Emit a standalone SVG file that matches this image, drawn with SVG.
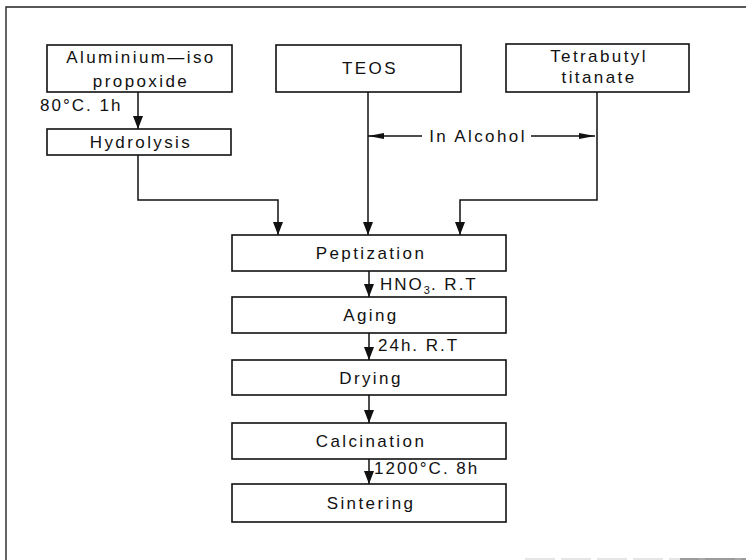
<svg xmlns="http://www.w3.org/2000/svg" width="746" height="560" viewBox="0 0 746 560">
<defs>
<style>
.box{fill:#fff;stroke:#111;stroke-width:1.6}
.t{font-family:"Liberation Sans",Arial,sans-serif;font-size:17px;letter-spacing:2.4px;fill:#111;text-anchor:middle}
.l{font-family:"Liberation Sans",Arial,sans-serif;font-size:17px;letter-spacing:2px;fill:#111}
.c{fill:none;stroke:#111;stroke-width:1.5}
.frame{fill:none;stroke:#222;stroke-width:1.4}
</style>
<marker id="av" viewBox="0 0 13 10" refX="13" refY="5" markerWidth="13" markerHeight="10" markerUnits="userSpaceOnUse" orient="auto">
<path d="M0,0 L13,5 L0,10 Z" fill="#111"/>
</marker>
<marker id="ahz" viewBox="0 0 16 8" refX="16" refY="4" markerWidth="16" markerHeight="8" markerUnits="userSpaceOnUse" orient="auto">
<path d="M0,1 L16,4 L0,7 Z" fill="#111"/>
</marker>
</defs>
<rect width="746" height="560" fill="#fff"/>
<path class="frame" d="M6,560 L6,7 L746,7"/>
<path d="M525,559 H746" stroke="#ccc" stroke-width="1.2" stroke-dasharray="30,6"/>
<path d="M680,559 H746" stroke="#555" stroke-width="1.2"/>

<g id="connectors">
<path class="c" d="M138,92 V129" marker-end="url(#av)"/>
<path class="c" d="M138,155 V200 H278 V235" marker-end="url(#av)"/>
<path class="c" d="M368,92 V235" marker-end="url(#av)"/>
<path class="c" d="M597,92 V200 H460 V235" marker-end="url(#av)"/>
<path class="c" d="M422,136 H368" marker-end="url(#ahz)"/>
<path class="c" d="M531,136 H595" marker-end="url(#ahz)"/>
<path class="c" d="M369,271 V297" marker-end="url(#av)"/>
<path class="c" d="M369,333 V360" marker-end="url(#av)"/>
<path class="c" d="M369,395 V423" marker-end="url(#av)"/>
<path class="c" d="M369,459 V484" marker-end="url(#av)"/>
<text class="l" x="40" y="111">80°C. 1h</text>
<text class="t" x="478" y="142">In Alcohol</text>
<text class="l" x="380" y="290">HNO<tspan font-size="11" dy="4" letter-spacing="1">3</tspan><tspan dy="-4">. R.T</tspan></text>
<text class="l" x="378" y="351">24h. R.T</text>
<text class="l" x="374" y="474">1200°C. 8h</text>
</g>

<g id="aluminium">
<rect class="box" x="47" y="45" width="185" height="47"/>
<text class="t" x="141" y="63">Aluminium—iso</text>
<text class="t" x="141" y="87">propoxide</text>
</g>
<g id="teos">
<rect class="box" x="276" y="45" width="185" height="47"/>
<text class="t" x="370" y="74">TEOS</text>
</g>
<g id="tetrabutyl">
<rect class="box" x="506" y="44" width="183" height="48"/>
<text class="t" x="599" y="62">Tetrabutyl</text>
<text class="t" x="599" y="83">titanate</text>
</g>
<g id="hydrolysis">
<rect class="box" x="47" y="129" width="184" height="26"/>
<text class="t" x="141" y="148">Hydrolysis</text>
</g>
<g id="peptization">
<rect class="box" x="232" y="235" width="274" height="36"/>
<text class="t" x="371" y="259">Peptization</text>
</g>
<g id="aging">
<rect class="box" x="232" y="297" width="274" height="36"/>
<text class="t" x="371" y="321">Aging</text>
</g>
<g id="drying">
<rect class="box" x="232" y="360" width="274" height="35"/>
<text class="t" x="371" y="384">Drying</text>
</g>
<g id="calcination">
<rect class="box" x="232" y="423" width="274" height="36"/>
<text class="t" x="371" y="447">Calcination</text>
</g>
<g id="sintering">
<rect class="box" x="232" y="484" width="274" height="38"/>
<text class="t" x="371" y="509">Sintering</text>
</g>
</svg>
